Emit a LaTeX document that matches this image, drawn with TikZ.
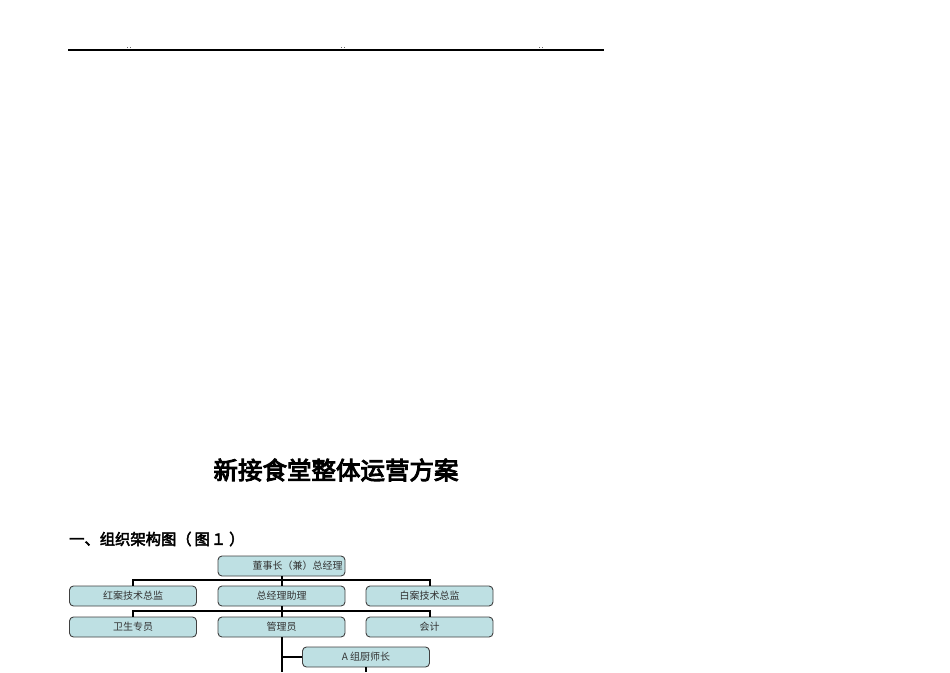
\documentclass[tikz,border=0pt]{standalone}
\usepackage{fontspec}
\newfontfamily\cjk{Noto Sans CJK SC}
\newfontfamily\cjkb{Noto Sans CJK SC}[FakeBold=4]
\newfontfamily\cjkh{Noto Sans CJK SC}[FakeBold=3]
\begin{document}
\begin{tikzpicture}[x=1pt,y=-1pt,
  box/.style={draw=black!75,line width=0.9pt,rounded corners=4pt,fill=boxfill,
    minimum width=127pt,minimum height=20pt,inner sep=0pt,font=\cjk\fontsize{10}{10}\selectfont,text=black!80},
  conn/.style={draw=black,line width=2pt}]
\definecolor{boxfill}{RGB}{190,224,227}
\useasboundingbox (0,0) rectangle (950,672);
% header rule
\draw[line width=1.2pt] (68,50) -- (604,50);
\foreach \x in {127,130,341,344,539,542} \fill[black!60] (\x,47) rectangle ++(1.2,1.2);
% titles
\node[font=\cjkb\fontsize{24.5}{24.5}\selectfont,inner sep=0pt] (title) at (336,470) {新接食堂整体运营方案};
\node[font=\cjkh\fontsize{15.3}{15.3}\selectfont,inner sep=0pt,anchor=west] (sec) at (69,539) {一、组织架构图（\hspace{3pt}图\hspace{1pt}１\hspace{3pt}）};
% boxes
\node[box,text width=122pt,align=right] (top) at (281.5,566) {董事长（兼）总经理};
\node[box] (l1) at (133,596) {红案技术总监};
\node[box] (m1) at (281.5,596) {总经理助理};
\node[box] (r1) at (429.5,596) {白案技术总监};
\node[box] (l2) at (133,627) {卫生专员};
\node[box] (m2) at (281.5,627) {管理员};
\node[box] (r2) at (429.5,627) {会计};
\node[box] (a) at (366,657) {A 组厨师长};
\coordinate (e1) at (281.5,672);
\coordinate (e2) at (366,672);
% connectors
\draw[conn] (top.south) -- (m1.north);
\draw[conn] (l1.north) -- ++(0,-6) -| (r1.north);
\draw[conn] (m1.south) -- (m2.north);
\draw[conn] (l2.north) -- ++(0,-6) -| (r2.north);
\draw[conn] (m2.south) -- (e1);
\draw[conn] (a.west) -- (a.west -| m2.south);
\draw[conn] (a.south) -- (e2);
\end{tikzpicture}
\end{document}
